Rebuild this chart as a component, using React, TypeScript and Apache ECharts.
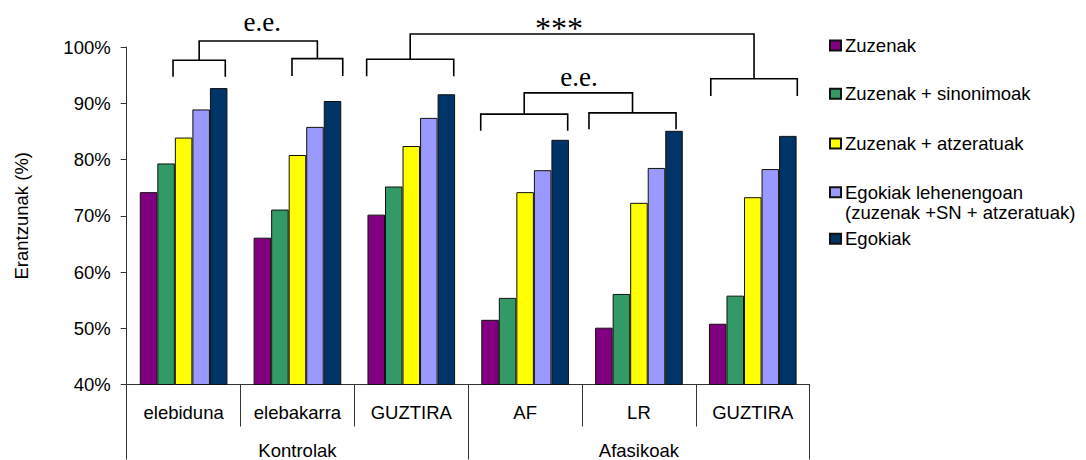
import React, { useEffect, useRef } from "react";
import * as echarts from "echarts";

const categories = ["elebiduna", "elebakarra", "GUZTIRA", "AF", "LR", "GUZTIRA"];
const groups = ["Kontrolak", "Afasikoak"];
const seriesNames = [
  "Zuzenak",
  "Zuzenak + sinonimoak",
  "Zuzenak + atzeratuak",
  "Egokiak lehenengoan (zuzenak +SN + atzeratuak)",
  "Egokiak",
];
const zuzenak = [74.2, 66.1, 70.2, 51.5, 50.1, 50.8];
const sinonimoak = [79.3, 71.1, 75.2, 55.4, 56.1, 55.8];
const atzeratuak = [83.9, 80.8, 82.4, 74.2, 72.3, 73.3];
const lehenengoan = [88.9, 85.8, 87.4, 78.1, 78.5, 78.3];
const egokiak = [92.7, 90.4, 91.6, 83.5, 85.1, 84.2];
const seriesValues = [zuzenak, sinonimoak, atzeratuak, lehenengoan, egokiak];
const colors = ["#800080", "#339966", "#FFFF00", "#9999FF", "#003366"];

// bracket annotations: [left position, right position] in category units, [top value, leg end value]
const subBrackets = [
  [0.407, 0.866, 97.64, 94.73],
  [1.452, 1.898, 97.93, 94.85],
  [2.108, 2.873, 97.82, 94.8],
  [3.11, 3.874, 88.06, 85.09],
  [4.061, 4.826, 88.29, 85.39],
  [5.131, 5.891, 94.35, 91.3],
];
const comparisons = [
  { a: 0, b: 1, top: 101.07, label: "e.e.", lx: 1.19, ly: 104.4 },
  { a: 3, b: 4, top: 91.84, label: "e.e.", lx: 3.973, ly: 94.68 },
  { a: 2, b: 5, top: 102.31, label: "***", lx: 3.798, ly: 103.38 },
];

const SANS = "'Liberation Sans', Arial, sans-serif";
const SERIF = "'Liberation Serif', 'Times New Roman', serif";
const FS = 18.5;
const legendCenters = [45.5, 93.7, 143.6, 192.2, 238.8];

export default function App() {
  const ref = useRef<HTMLDivElement>(null);
  useEffect(() => {
    document.body.style.margin = "0";
    const chart = echarts.init(ref.current!, null, { renderer: "svg" });
    const option: any = {
      animation: false,
      grid: { left: 126.7, right: 276.3, top: 47, bottom: 75, containLabel: false },
      legend: seriesNames.map((n, i) => ({
        data: [n],
        left: 829,
        top: legendCenters[i] - 10,
        padding: 0,
        itemWidth: 11,
        itemHeight: 10,
        icon: "rect",
        formatter: (name: string) =>
          name.startsWith("Egokiak lehenengoan") ? "Egokiak lehenengoan" : name,
        textStyle: { fontSize: FS, fontFamily: SANS, color: "#000", lineHeight: 20, padding: [0, 0, 0, -1] },
      })),
      xAxis: [
        {
          type: "category",
          data: categories,
          position: "bottom",
          axisLine: { show: true, lineStyle: { color: "#333", width: 1 } },
          axisTick: { show: true, interval: 0, length: 42, lineStyle: { color: "#333" } },
          axisLabel: { interval: 0, margin: 18, fontSize: FS, fontFamily: SANS, color: "#000" },
        },
        {
          type: "category",
          data: groups,
          position: "bottom",
          offset: 0,
          axisLine: { show: false },
          axisTick: { show: true, interval: 0, length: 75, lineStyle: { color: "#333" } },
          axisLabel: { interval: 0, margin: 56.5, fontSize: FS, fontFamily: SANS, color: "#000" },
        },
      ],
      yAxis: {
        type: "value",
        min: 40,
        max: 100,
        interval: 10,
        name: "Erantzunak (%)",
        nameLocation: "middle",
        nameGap: 96,
        nameTextStyle: { fontSize: FS, fontFamily: SANS, color: "#000" },
        axisLine: { show: true, lineStyle: { color: "#333", width: 1 } },
        axisTick: { show: true, length: 6, lineStyle: { color: "#333" } },
        splitLine: { show: false },
        axisLabel: { formatter: "{value}%", margin: 16, fontSize: FS, fontFamily: SANS, color: "#000" },
      },
      series: seriesNames.map((n, i) => ({
        name: n,
        type: "bar",
        xAxisIndex: 0,
        data: seriesValues[i],
        barGap: "0%",
        barCategoryGap: "23%",
        itemStyle: { color: colors[i], borderColor: "#111", borderWidth: 1 },
      })),
    };
    chart.setOption(option);

    const c0 = chart.convertToPixel({ xAxisIndex: 0 }, 0) as number;
    const c1 = chart.convertToPixel({ xAxisIndex: 0 }, 1) as number;
    const w = c1 - c0;
    const x0 = c0 - w / 2;
    const px = (u: number) => x0 + u * w;
    const py = (v: number) => chart.convertToPixel({ yAxisIndex: 0 }, v) as number;
    const lineStyle = { stroke: "#000", lineWidth: 1.6, fill: null as any };
    const elements: any[] = [];
    subBrackets.forEach(([l, r, t, b]) => {
      elements.push({
        type: "polyline",
        shape: { points: [[px(l), py(b)], [px(l), py(t)], [px(r), py(t)], [px(r), py(b)]] },
        style: lineStyle,
        silent: true,
      });
    });
    comparisons.forEach((c) => {
      const A = subBrackets[c.a];
      const B = subBrackets[c.b];
      const xa = px((A[0] + A[1]) / 2);
      const xb = px((B[0] + B[1]) / 2);
      elements.push({
        type: "polyline",
        shape: { points: [[xa, py(A[2])], [xa, py(c.top)], [xb, py(c.top)], [xb, py(B[2])]] },
        style: lineStyle,
        silent: true,
      });
      elements.push({
        type: "text",
        x: px(c.lx),
        y: py(c.ly),
        style: {
          text: c.label,
          fontSize: c.label === "***" ? 32 : 27,
          fontFamily: SERIF,
          fill: "#000",
          align: "center",
          verticalAlign: "middle",
        },
        silent: true,
      });
    });
    elements.push({
      type: "text",
      x: 845,
      y: 212,
      style: {
        text: "(zuzenak +SN + atzeratuak)",
        fontSize: FS,
        fontFamily: SANS,
        fill: "#000",
        align: "left",
        verticalAlign: "middle",
      },
      silent: true,
    });
    chart.setOption({ graphic: elements });
    return () => chart.dispose();
  }, []);
  return <div ref={ref} style={{ width: 1086, height: 460 }} />;
}
